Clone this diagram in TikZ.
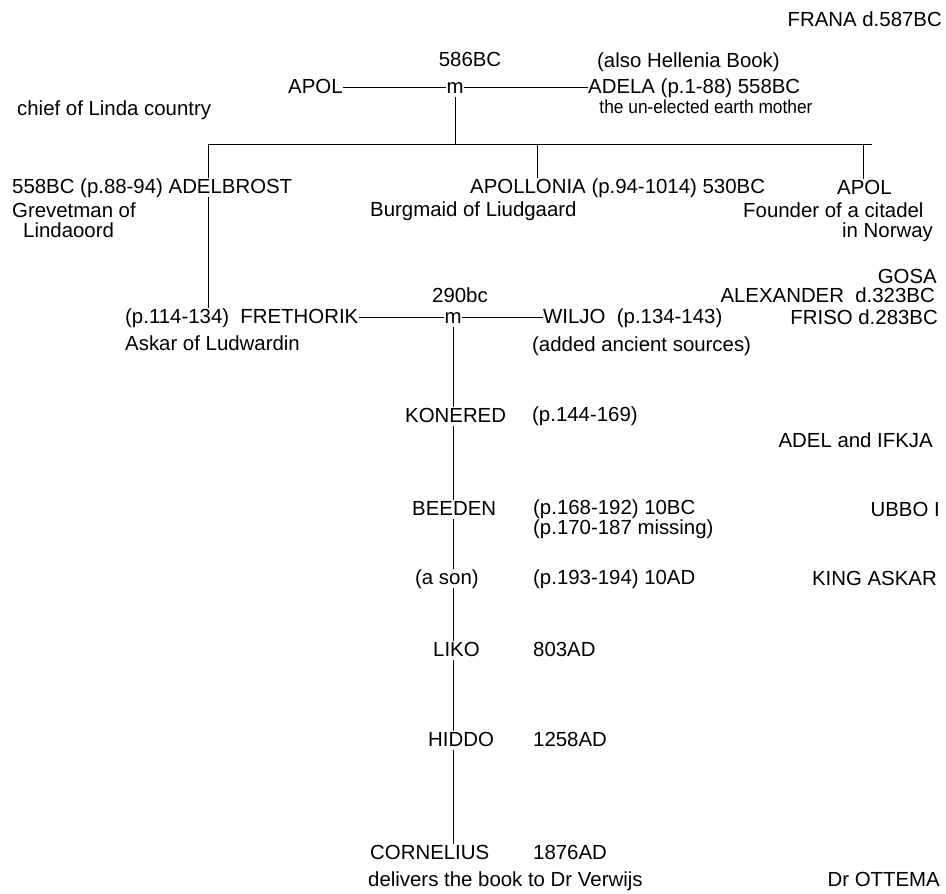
\documentclass[tikz,border=0pt]{standalone}
\usepackage{fontspec}
\usepackage{graphicx}
\setmainfont{Liberation Sans}
\usetikzlibrary{positioning}

\newcommand{\treefont}{\fontsize{20.4}{24}\selectfont}

\tikzset{
  lbl/.style={inner sep=0pt, font=\treefont, text height=14.7pt, text depth=4.2pt, anchor=base west},
  lblr/.style={lbl, anchor=base east},
  lblc/.style={lbl, anchor=base},
  link/.style={line width=1pt}
}

\begin{document}
\begin{tikzpicture}[x=1pt, y=-1pt]
    \useasboundingbox (0,0) rectangle (946,894);

    % First couple
    \node[lblr] (frana) at (942,27) {FRANA d.587BC};
    \node[lblc] (date1) at (470,66) {586BC};
    \node[lbl] (hellenia) at (597,67) {(also Hellenia Book)};
    \node[lbl] (apol) at (288,93) {APOL};
    \node[lblc] (m1) at (455,93) {m};
    \node[lbl] (adela) at (588,93) {ADELA (p.1-88) 558BC};
    \node[lblc] (mother) at (706,113) {\scalebox{0.85}[0.92]{the un-elected earth mother}};
    \node[lbl] (chief) at (17,115) {chief of Linda country};
    \draw[link] (apol.east) -- (m1.west);
    \draw[link] (m1.east) -- (adela.west);

    % Bar over the children
    \coordinate (barL) at (208,144);
    \coordinate (barR) at (872,144);
    \coordinate (dropM) at (537,144);
    \coordinate (dropR) at (863,144);
    \draw[link] (m1.south) -- (m1.south |- barL);
    \draw[link] (barL) -- (barR);

    % Children
    \node[lbl] (adelbrost) at (12,193) {558BC (p.88-94) ADELBROST};
    \node[lbl] (apollonia) at (470,193) {APOLLONIA (p.94-1014) 530BC};
    \node[lbl] (apol2) at (837,194) {APOL};
    \node[lbl] (grevetman) at (12,217) {Grevetman of};
    \node[lbl] (lindaoord) at (23,237) {Lindaoord};
    \node[lbl] (burgmaid) at (370,216) {Burgmaid of Liudgaard};
    \node[lbl] (founder) at (743,217) {Founder of a citadel};
    \node[lbl] (norway) at (842,237) {in Norway};
    \draw[link] (barL) -- (barL |- adelbrost.north);
    \draw[link] (dropM) -- (dropM |- apollonia.north);
    \draw[link] (dropR) -- (dropR |- apol2.north);

    % Second couple
    \node[lblr] (gosa) at (937,283) {GOSA};
    \node[lblr] (alexander) at (935,302) {ALEXANDER\ \ d.323BC};
    \node[lblr] (friso) at (938,324) {FRISO d.283BC};
    \node[lblc] (date2) at (460,302) {290bc};
    \node[lbl] (frethorik) at (125,323) {(p.114-134)\ \ FRETHORIK};
    \node[lblc] (m2) at (453,323) {m};
    \node[lbl] (wiljo) at (543,323) {WILJO\ \ (p.134-143)};
    \node[lbl] (askar) at (125,350) {Askar of Ludwardin};
    \node[lbl] (sources) at (532,351) {(added ancient sources)};
    \draw[link] (barL |- adelbrost.south) -- (barL |- frethorik.north);
    \draw[link] (frethorik.east) -- (m2.west);
    \draw[link] (m2.east) -- (wiljo.west);

    % Line of descent
    \node[lbl] (konered) at (405,422) {KONERED};
    \node[lbl] (konDate) at (532,421) {(p.144-169)};
    \node[lblr] (adel) at (933,447) {ADEL and IFKJA};
    \node[lbl] (beeden) at (412,515) {BEEDEN};
    \node[lbl] (beeDate) at (533,514) {(p.168-192) 10BC};
    \node[lbl] (beeMiss) at (533,534) {(p.170-187 missing)};
    \node[lblr] (ubbo) at (940,516) {UBBO I};
    \node[lbl] (ason) at (415,584) {(a son)};
    \node[lbl] (asonDate) at (533,584) {(p.193-194) 10AD};
    \node[lblr] (kingaskar) at (937,585) {KING ASKAR};
    \node[lbl] (liko) at (433,656) {LIKO};
    \node[lbl] (likoDate) at (533,656) {803AD};
    \node[lbl] (hiddo) at (428,746) {HIDDO};
    \node[lbl] (hiddoDate) at (533,746) {1258AD};
    \node[lbl] (cornelius) at (370,859) {CORNELIUS};
    \node[lbl] (corDate) at (533,859) {1876AD};
    \node[lbl] (verwijs) at (368,886) {delivers the book to Dr Verwijs};
    \node[lblr] (ottema) at (940,886) {Dr OTTEMA};
    \draw[link] (m2.south) -- (m2 |- konered.north);
    \draw[link] (m2 |- konered.south) -- (m2 |- beeden.north);
    \draw[link] (m2 |- beeden.south) -- (m2 |- ason.north);
    \draw[link] (m2 |- ason.south) -- (m2 |- liko.north);
    \draw[link] (m2 |- liko.south) -- (m2 |- hiddo.north);
    \draw[link] (m2 |- hiddo.south) -- (m2 |- cornelius.north);
\end{tikzpicture}
\end{document}
